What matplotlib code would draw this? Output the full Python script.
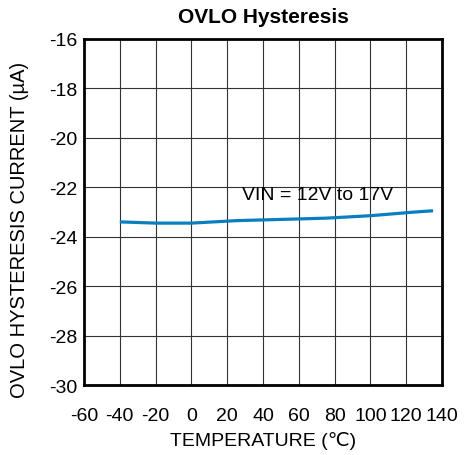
import matplotlib
matplotlib.use("Agg")
import matplotlib.pyplot as plt

temperature = [-40, -20, 0, 25, 50, 75, 100, 125, 135]
hyst_current = [-23.4, -23.45, -23.45, -23.35, -23.3, -23.25, -23.15, -23.0, -22.95]
x_ticks = [-60, -40, -20, 0, 20, 40, 60, 80, 100, 120, 140]
y_ticks = [-30, -28, -26, -24, -22, -20, -18, -16]

plt.rcParams["font.family"] = ["Liberation Sans", "DejaVu Sans"]
plt.rcParams["axes.unicode_minus"] = False

fig = plt.figure(figsize=(4.68, 4.56), dpi=100)
ax = fig.add_axes([0.1795, 0.1535, 0.765, 0.7588])

ax.plot(temperature, hyst_current, color="#0a7fc0", lw=2.3, solid_capstyle="butt")
ax.set_xlim(-60, 140)
ax.set_ylim(-30, -16)
ax.set_xticks(x_ticks)
ax.set_yticks(y_ticks)
ax.grid(True, color="#333333", lw=0.8)
ax.tick_params(length=0, labelsize=14)
ax.tick_params(axis="x", pad=16)
ax.tick_params(axis="y", pad=5)
for s in ax.spines.values():
    s.set_linewidth(2)

ax.text(28, -22.3, "VIN = 12V to 17V", fontsize=14, va="center", ha="left")
ax.set_title("OVLO Hysteresis", fontsize=15, fontweight="bold", pad=12)
ax.set_xlabel("TEMPERATURE (\u2103)", fontsize=14, labelpad=5)
ax.set_ylabel("OVLO HYSTERESIS CURRENT (\u00b5A)", fontsize=14.5)
ax.yaxis.set_label_coords(-0.155, 0.45)

fig.savefig("out.png", dpi=100)
